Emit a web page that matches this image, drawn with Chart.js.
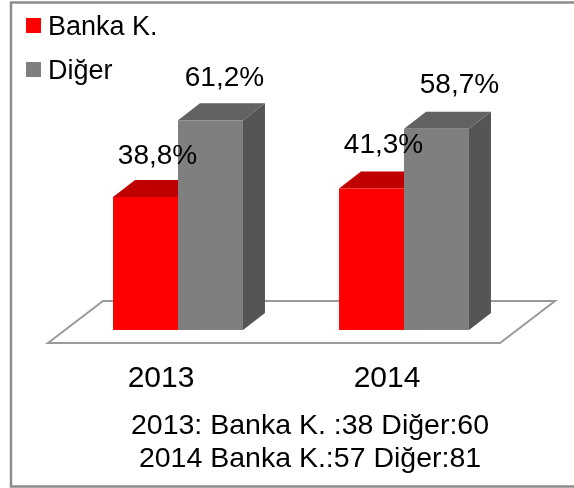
<!DOCTYPE html>
<html lang="tr">
<head>
  <meta charset="UTF-8">
  <title>Banka K. / Diğer</title>
  <script src="https://cdn.jsdelivr.net/npm/chart.js"></script>
  <style>
    html, body { margin: 0; padding: 0; background: #fff; }
    #wrap { width: 574px; height: 488px; }
  </style>
</head>
<body>
  <div id="wrap"><canvas id="shareChart" width="574" height="488"></canvas></div>

  <script>
    const years = ['2013', '2014'];
    const seriesNames = ['Banka K.', 'Diğer'];
    const bankaValues = [38.8, 41.3];
    const digerValues = [61.2, 58.7];
    const noteLines = ['2013: Banka K. :38 Diğer:60', '2014 Banka K.:57 Diğer:81'];

    const fontFamily = '"Liberation Sans", sans-serif';
    const depthX = 22;
    const depthY = 17;
    // nudges for the value labels, the original has them placed by hand
    const labelNudge = [[[12, -41], [14, -42]], [[12, -43], [23, -43]]];

    function fillPoly(ctx, pts, color) {
      ctx.beginPath();
      pts.forEach((p, i) => i ? ctx.lineTo(p[0], p[1]) : ctx.moveTo(p[0], p[1]));
      ctx.closePath();
      ctx.fillStyle = color;
      ctx.fill();
    }

    const scenePlugin = {
      id: 'scene',
      beforeDatasetsDraw(chart) {
        const ctx = chart.ctx;
        const { left, right } = chart.chartArea;
        const base = chart.scales.y.getPixelForValue(0);
        ctx.save();

        // page frame, open on the right
        ctx.strokeStyle = '#8c8c8c';
        ctx.lineWidth = 2.5;
        ctx.beginPath();
        ctx.moveTo(574, 2.5);
        ctx.lineTo(11, 2.5);
        ctx.lineTo(11, 486.5);
        ctx.lineTo(574, 486.5);
        ctx.stroke();

        // floor
        ctx.lineWidth = 2;
        ctx.strokeStyle = '#9a9a9a';
        ctx.beginPath();
        ctx.moveTo(left - 17, base + 13);
        ctx.lineTo(right - 17, base + 13);
        ctx.lineTo(right + 38, base - 29);
        ctx.lineTo(left + 38, base - 29);
        ctx.closePath();
        ctx.stroke();

        // side and top faces of the bars
        const topColors = ['#c00000', '#626262'];
        chart.data.datasets.forEach((ds, d) => {
          chart.getDatasetMeta(d).data.forEach(bar => {
            const x0 = bar.x - bar.width / 2;
            const x1 = bar.x + bar.width / 2;
            fillPoly(ctx, [[x1, bar.y], [x1 + depthX, bar.y - depthY], [x1 + depthX, bar.base - depthY], [x1, bar.base]], '#555555');
            fillPoly(ctx, [[x0, bar.y], [x0 + depthX, bar.y - depthY], [x1 + depthX, bar.y - depthY], [x1, bar.y]], topColors[d]);
          });
        });
        ctx.restore();
      },
      afterDatasetsDraw(chart) {
        const ctx = chart.ctx;
        ctx.save();
        ctx.fillStyle = '#000';
        ctx.textBaseline = 'middle';

        // value labels
        ctx.textAlign = 'center';
        ctx.font = '28px ' + fontFamily;
        chart.data.datasets.forEach((ds, d) => {
          chart.getDatasetMeta(d).data.forEach((bar, i) => {
            const text = ds.data[i].toFixed(1).replace('.', ',') + '%';
            const nudge = labelNudge[i][d];
            ctx.fillText(text, bar.x + nudge[0], bar.y + nudge[1]);
          });
        });

        // legend
        ctx.textAlign = 'left';
        ctx.font = '27px ' + fontFamily;
        chart.data.datasets.forEach((ds, d) => {
          const rowY = 26 + d * 44;
          ctx.fillStyle = ds.backgroundColor;
          ctx.fillRect(26, rowY - 8, 15, 15);
          ctx.fillStyle = '#000';
          ctx.fillText(ds.label, 48, rowY + 2);
        });

        // note under the axis
        ctx.textAlign = 'center';
        ctx.font = '28.5px ' + fontFamily;
        noteLines.forEach((line, i) => ctx.fillText(line, 310, 426.5 + i * 33));
        ctx.restore();
      }
    };

    new Chart(document.getElementById('shareChart'), {
      type: 'bar',
      data: {
        labels: years,
        datasets: [
          { label: seriesNames[0], data: bankaValues, backgroundColor: '#ff0000' },
          { label: seriesNames[1], data: digerValues, backgroundColor: '#7f7f7f' }
        ]
      },
      options: {
        responsive: false,
        animation: false,
        layout: { padding: { left: 65, right: 57, top: 90, bottom: 60 } },
        datasets: { bar: { categoryPercentage: 0.575, barPercentage: 1 } },
        scales: {
          x: {
            grid: { display: false, drawTicks: false },
            border: { display: false },
            ticks: {
              color: '#000',
              padding: 31,
              labelOffset: -17,
              maxRotation: 0,
              font: { family: fontFamily, size: 30 }
            }
          },
          y: { display: false, min: 0, max: 70 }
        },
        plugins: {
          legend: { display: false },
          tooltip: { enabled: false }
        }
      },
      plugins: [scenePlugin]
    });
  </script>
</body>
</html>
